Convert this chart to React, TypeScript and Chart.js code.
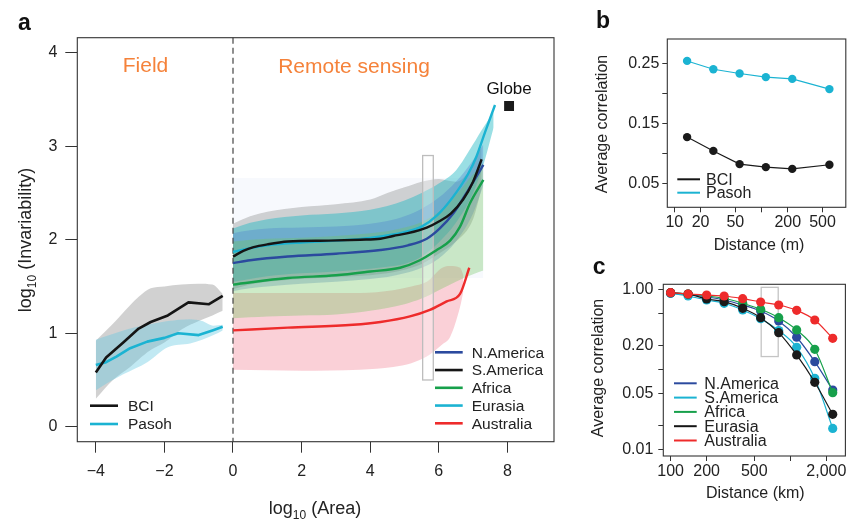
import React, { useEffect, useRef } from "react";
import { Chart, registerables } from "chart.js";

Chart.register(...registerables);

const FONT = '"Liberation Sans", Arial, Helvetica, sans-serif';
const INK = "#222222";
const ORANGE = "#F5823A";

// ---------- Panel a : field plots ----------
const bciX = [-4.0, -3.7, -3.2, -2.75, -2.4, -1.9, -1.3, -0.7, -0.3];
const bciY = [0.58, 0.74, 0.9, 1.05, 1.12, 1.19, 1.33, 1.31, 1.4];
const pasohX = [-4.0, -3.7, -3.4, -3.0, -2.5, -2.0, -1.6, -1.0, -0.6, -0.3];
const pasohY = [0.66, 0.69, 0.75, 0.84, 0.91, 0.95, 1.0, 0.98, 1.03, 1.07];

const bciBandX = [-4.0, -3.5, -3.0, -2.75, -2.4, -2.0, -1.5, -1.0, -0.6, -0.3];
const bciBandHi = [0.92, 1.1, 1.3, 1.39, 1.48, 1.5, 1.52, 1.53, 1.52, 1.42];
const bciBandLo = [0.3, 0.5, 0.64, 0.72, 0.82, 0.9, 1.04, 1.13, 1.19, 1.24];
const pasohBandX = [-4.0, -3.6, -3.2, -2.5, -1.9, -1.25, -0.9, -0.57, -0.3];
const pasohBandHi = [0.93, 0.98, 1.03, 1.09, 1.13, 1.15, 1.13, 1.08, 1.09];
const pasohBandLo = [0.39, 0.48, 0.56, 0.69, 0.85, 0.89, 0.93, 0.98, 1.03];

// ---------- Panel a : remote sensing ----------
const samX = [0, 0.3, 0.6, 1, 1.6, 2.8, 3.7, 4.3, 4.67, 5.1, 5.65, 6.03, 6.35, 6.71, 7.0, 7.25];
const samY = [1.82, 1.88, 1.92, 1.95, 1.98, 1.99, 2.0, 2.01, 2.04, 2.07, 2.13, 2.2, 2.28, 2.43, 2.62, 2.86];
const namX = [0, 0.5, 1.6, 3, 4.3, 5.1, 5.65, 6.03, 6.42, 6.86, 7.3];
const namY = [1.75, 1.78, 1.82, 1.85, 1.89, 1.94, 2.01, 2.12, 2.28, 2.53, 2.8];
const afrX = [0, 1.6, 3, 4.0, 4.87, 5.45, 5.94, 6.33, 6.62, 6.91, 7.3];
const afrY = [1.52, 1.59, 1.62, 1.66, 1.7, 1.78, 1.89, 1.99, 2.14, 2.39, 2.64];
const eurX = [0, 0.5, 1, 2, 3, 4, 5, 5.5, 5.95, 6.4, 6.85, 7.1, 7.35, 7.64];
const eurY = [1.87, 1.91, 1.94, 1.97, 1.99, 2.02, 2.08, 2.14, 2.26, 2.45, 2.7, 2.89, 3.15, 3.44];
const ausX = [0, 1.6, 3.5, 4.3, 5.16, 5.74, 6.23, 6.62, 6.89];
const ausY = [1.03, 1.06, 1.09, 1.12, 1.18, 1.25, 1.34, 1.42, 1.7];

const paleBandX = [0, 7.3];
const paleBandHi = [2.66, 2.66];
const paleBandLo = [1.59, 1.59];
const samBandX = [0, 0.5, 1, 2, 3, 4, 4.5, 5, 5.5, 6, 6.5, 7, 7.25];
const samBandHi = [2.17, 2.25, 2.3, 2.35, 2.38, 2.43, 2.5, 2.56, 2.62, 2.65, 2.62, 2.8, 3.0];
const samBandLo = [1.47, 1.52, 1.55, 1.58, 1.6, 1.62, 1.64, 1.68, 1.74, 1.85, 1.98, 2.22, 2.55];
const namBandX = [0, 0.5, 1, 2, 3, 4, 4.5, 5, 5.5, 6, 6.5, 7, 7.3];
const namBandHi = [2.07, 2.1, 2.12, 2.13, 2.14, 2.17, 2.2, 2.25, 2.33, 2.45, 2.62, 2.85, 3.02];
const namBandLo = [1.45, 1.48, 1.5, 1.53, 1.55, 1.58, 1.6, 1.64, 1.7, 1.8, 1.98, 2.28, 2.58];
const eurBandX = [0, 0.5, 1, 2, 3, 4, 4.5, 5, 5.5, 6, 6.5, 7, 7.3, 7.6];
const eurBandHi = [2.12, 2.18, 2.22, 2.26, 2.28, 2.32, 2.36, 2.42, 2.5, 2.6, 2.74, 3.02, 3.2, 3.36];
const eurBandLo = [1.55, 1.58, 1.61, 1.64, 1.66, 1.69, 1.71, 1.74, 1.82, 1.97, 2.18, 2.5, 2.8, 3.2];
const afrBandX = [0, 0.5, 1, 2, 3, 4, 4.5, 5, 5.5, 6, 6.5, 7, 7.3];
const afrBandHi = [1.98, 2.0, 2.01, 2.02, 2.04, 2.07, 2.09, 2.13, 2.19, 2.3, 2.48, 2.7, 2.82];
const afrBandLo = [1.16, 1.17, 1.18, 1.19, 1.2, 1.24, 1.27, 1.31, 1.37, 1.46, 1.55, 1.63, 1.67];
const ausBandX = [0, 2, 3.7, 4.67, 5.2, 5.65, 6.1, 6.33, 6.62, 6.72];
const ausBandHi = [1.43, 1.43, 1.43, 1.46, 1.5, 1.55, 1.7, 1.72, 1.7, 1.62];
const ausBandLo = [0.61, 0.6, 0.61, 0.64, 0.68, 0.75, 0.88, 0.96, 1.28, 1.45];

const globeX = [8.05];
const globeY = [3.43];
const aRectX = [5.53, 5.84];
const aRectY = [0.5, 2.9];

const aXTicks = [-4, -2, 0, 2, 4, 6, 8];
const aYTicks = [0, 1, 2, 3, 4];
const aFieldLabels = ["BCI", "Pasoh"];
const aRemoteLabels = ["N.America", "S.America", "Africa", "Eurasia", "Australia"];

// ---------- Panel b ----------
const distM = [14, 28, 56, 112, 225, 600];
const pasohCorr = [0.254, 0.24, 0.233, 0.227, 0.224, 0.207];
const bciCorr = [0.127, 0.104, 0.082, 0.077, 0.074, 0.081];
const bXTicks = [10, 20, 50, 100, 200, 500];
const bXLabels = ["10", "20", "50", "", "200", "500"];
const bYTicks = [0.05, 0.1, 0.15, 0.2, 0.25];
const bYLabels = ["0.05", "", "0.15", "", "0.25"];

// ---------- Panel c ----------
const distKm = [100, 140, 200, 280, 400, 565, 800, 1130, 1600, 2260];
const nAmCorr = [0.909, 0.873, 0.817, 0.749, 0.648, 0.545, 0.408, 0.255, 0.126, 0.0555];
const sAmCorr = [0.909, 0.841, 0.749, 0.681, 0.561, 0.436, 0.31, 0.191, 0.0778, 0.0183];
const afrCorr = [0.925, 0.891, 0.841, 0.787, 0.681, 0.573, 0.449, 0.315, 0.18, 0.0514];
const eurCorr = [0.925, 0.891, 0.771, 0.713, 0.589, 0.449, 0.291, 0.153, 0.0694, 0.0275];
const ausCorr = [0.925, 0.891, 0.865, 0.841, 0.778, 0.707, 0.648, 0.556, 0.42, 0.247];
const cXTicks = [100, 200, 500, 1000, 2000];
const cXLabels = ["100", "200", "500", "", "2,000"];
const cYTicks = [0.01, 0.02, 0.05, 0.1, 0.2, 0.5, 1];
const cYLabels = ["0.01", "", "0.05", "", "0.20", "", "1.00"];
const cRectX = [571, 792];
const cRectY = [0.146, 1.08];

// ---------- colours ----------
const C = {
  black: "#151515",
  blue: "#2B4A9E",
  green: "#17A04B",
  cyan: "#1BB3D2",
  red: "#EE2B2B",
};

type XY = { x: number; y: number };
const xy = (xs: number[], ys: number[]): XY[] => xs.map((x, i) => ({ x, y: ys[i] }));

function bandSets(xs: number[], lo: number[], hi: number[], color: string, order: number) {
  return [
    { data: xy(xs, lo), borderWidth: 0, pointRadius: 0, fill: false, order, cubicInterpolationMode: "monotone" },
    { data: xy(xs, hi), borderWidth: 0, pointRadius: 0, fill: "-1", backgroundColor: color, order, cubicInterpolationMode: "monotone" },
  ];
}

function lineSet(xs: number[], ys: number[], color: string, width: number, order: number, smooth: boolean) {
  return {
    data: xy(xs, ys),
    borderColor: color,
    borderWidth: width,
    pointRadius: 0,
    fill: false,
    order,
    tension: 0,
    cubicInterpolationMode: smooth ? "monotone" : "default",
    borderJoinStyle: "round",
  };
}

function drawLegend(ctx: CanvasRenderingContext2D, labels: string[], colors: string[], x0: number, x1: number, tx: number, y0: number, dy: number, lw: number, size: number) {
  ctx.save();
  ctx.font = `${size}px ${FONT}`;
  ctx.textBaseline = "middle";
  ctx.textAlign = "left";
  labels.forEach((lab, i) => {
    const y = y0 + dy * i;
    ctx.strokeStyle = colors[i];
    ctx.lineWidth = lw;
    ctx.beginPath();
    ctx.moveTo(x0, y);
    ctx.lineTo(x1, y);
    ctx.stroke();
    ctx.fillStyle = INK;
    ctx.fillText(lab, tx, y + 1);
  });
  ctx.restore();
}

function drawText(ctx: CanvasRenderingContext2D, text: string, x: number, y: number, size: number, color: string, opts: { rotate?: boolean; bold?: boolean; align?: CanvasTextAlign; baseline?: CanvasTextBaseline } = {}) {
  ctx.save();
  ctx.translate(x, y);
  if (opts.rotate) ctx.rotate(-Math.PI / 2);
  ctx.font = `${opts.bold ? "bold " : ""}${size}px ${FONT}`;
  ctx.fillStyle = color;
  ctx.textAlign = opts.align || "center";
  ctx.textBaseline = opts.baseline || "middle";
  ctx.fillText(text, 0, 0);
  ctx.restore();
}

function drawSubTitle(ctx: CanvasRenderingContext2D, cx: number, cy: number, rotate: boolean, main: string, sub: string, rest: string, size: number) {
  ctx.save();
  ctx.translate(cx, cy);
  if (rotate) ctx.rotate(-Math.PI / 2);
  const f1 = `${size}px ${FONT}`;
  const f2 = `${Math.round(size * 0.68)}px ${FONT}`;
  ctx.font = f1;
  const w1 = ctx.measureText(main).width;
  const w3 = ctx.measureText(rest).width;
  ctx.font = f2;
  const w2 = ctx.measureText(sub).width;
  let x = -(w1 + w2 + w3) / 2;
  const base = size * 0.36;
  ctx.fillStyle = INK;
  ctx.textAlign = "left";
  ctx.textBaseline = "alphabetic";
  ctx.font = f1;
  ctx.fillText(main, x, base);
  x += w1;
  ctx.font = f2;
  ctx.fillText(sub, x, base + size * 0.26);
  x += w2;
  ctx.font = f1;
  ctx.fillText(rest, x, base);
  ctx.restore();
}

function drawBox(chart: any) {
  const { ctx, chartArea: ca } = chart;
  ctx.save();
  ctx.strokeStyle = "#333";
  ctx.lineWidth = 1.1;
  ctx.strokeRect(ca.left, ca.top, ca.right - ca.left, ca.bottom - ca.top);
  ctx.restore();
}

const fmtSigned = (v: number) => (v < 0 ? "\u2212" + Math.abs(v) : String(v));

const gridTicks = (len: number) => ({ drawOnChartArea: false, drawTicks: true, tickLength: len, color: "#333", lineWidth: 1 });

// ---------- Panel a config ----------
function configA(): any {
  const datasets: any[] = [
    ...bandSets(paleBandX, paleBandLo, paleBandHi, "rgba(228,236,247,0.3)", 210),
    ...bandSets(ausBandX, ausBandLo, ausBandHi, "rgba(240,120,140,0.35)", 209),
    ...bandSets(samBandX, samBandLo, samBandHi, "rgba(140,140,140,0.38)", 208),
    ...bandSets(eurBandX, eurBandLo, eurBandHi, "rgba(30,185,195,0.45)", 207),
    ...bandSets(namBandX, namBandLo, namBandHi, "rgba(75,120,205,0.32)", 206),
    ...bandSets(afrBandX, afrBandLo, afrBandHi, "rgba(110,195,95,0.34)", 205),
    ...bandSets(bciBandX, bciBandLo, bciBandHi, "rgba(140,140,140,0.4)", 204),
    ...bandSets(pasohBandX, pasohBandLo, pasohBandHi, "rgba(100,200,225,0.4)", 203),
    lineSet(eurX, eurY, C.cyan, 2.4, 9, true),
    lineSet(namX, namY, C.blue, 2.4, 8, true),
    lineSet(afrX, afrY, C.green, 2.4, 7, true),
    lineSet(samX, samY, C.black, 2.4, 6, true),
    lineSet(ausX, ausY, C.red, 2.4, 5, true),
    lineSet(pasohX, pasohY, C.cyan, 2.6, 4, false),
    lineSet(bciX, bciY, C.black, 2.6, 3, false),
    {
      data: xy(globeX, globeY),
      showLine: false,
      pointStyle: "rect",
      pointRadius: 7,
      pointBorderWidth: 0,
      pointBackgroundColor: "#1a1a1a",
      borderColor: "#1a1a1a",
      order: 1,
    },
  ];

  const plugin = {
    id: "panelA",
    beforeDatasetsDraw(chart: any) {
      const { ctx, chartArea: ca, scales } = chart;
      const x = scales.x, y = scales.y;
      ctx.save();
      const rx0 = x.getPixelForValue(aRectX[0]);
      const rx1 = x.getPixelForValue(aRectX[1]);
      const ry0 = y.getPixelForValue(aRectY[1]);
      const ry1 = y.getPixelForValue(aRectY[0]);
      ctx.fillStyle = "rgba(255,255,255,0.3)";
      ctx.fillRect(rx0, ry0, rx1 - rx0, ry1 - ry0);
      ctx.strokeStyle = "#bdbdbd";
      ctx.lineWidth = 1.3;
      ctx.strokeRect(rx0, ry0, rx1 - rx0, ry1 - ry0);
      const zx = x.getPixelForValue(0);
      ctx.setLineDash([6, 4]);
      ctx.strokeStyle = "#444";
      ctx.lineWidth = 1.2;
      ctx.beginPath();
      ctx.moveTo(zx, ca.top);
      ctx.lineTo(zx, ca.bottom);
      ctx.stroke();
      ctx.restore();
    },
    afterDraw(chart: any) {
      const { ctx, scales } = chart;
      drawBox(chart);
      drawText(ctx, "Field", 145.5, 66, 21, ORANGE);
      drawText(ctx, "Remote sensing", 354, 67, 21, ORANGE);
      const gx = scales.x.getPixelForValue(globeX[0]);
      const gy = scales.y.getPixelForValue(globeY[0]);
      drawText(ctx, "Globe", gx, gy - 17, 17, "#111");
      drawLegend(ctx, aFieldLabels, [C.black, C.cyan], 90, 118, 128, 405.7, 18.3, 2.6, 15.5);
      drawLegend(ctx, aRemoteLabels, [C.blue, C.black, C.green, C.cyan, C.red], 435, 462.7, 471.7, 352.3, 17.75, 2.6, 15.5);
      drawSubTitle(ctx, 25, 240, true, "log", "10", " (Invariability)", 18);
      drawSubTitle(ctx, 315, 508, false, "log", "10", " (Area)", 18);
      drawText(ctx, "a", 18, 29.5, 23, "#111", { bold: true, align: "left", baseline: "alphabetic" });
    },
  };

  return {
    type: "line",
    data: { datasets },
    plugins: [plugin],
    options: {
      responsive: false,
      animation: false,
      events: [],
      layout: { padding: { left: 0, top: 37.7, right: 11, bottom: 0 } },
      plugins: { legend: { display: false }, tooltip: { enabled: false }, filler: { drawTime: "beforeDatasetsDraw" } },
      elements: { point: { radius: 0 } },
      scales: {
        x: {
          type: "linear",
          min: -4.54,
          max: 9.36,
          afterBuildTicks: (s: any) => { s.ticks = aXTicks.map((v) => ({ value: v })); },
          afterFit: (s: any) => { s.height = 78.3; },
          grid: gridTicks(11),
          border: { display: false },
          ticks: { autoSkip: false, maxRotation: 0, padding: 9, color: INK, font: { size: 16, family: FONT }, callback: (v: number) => fmtSigned(v) },
        },
        y: {
          type: "linear",
          min: -0.16,
          max: 4.16,
          afterBuildTicks: (s: any) => { s.ticks = aYTicks.map((v) => ({ value: v })); },
          afterFit: (s: any) => { s.width = 77.3; },
          grid: gridTicks(12),
          border: { display: false },
          ticks: { autoSkip: false, padding: 8, color: INK, font: { size: 16, family: FONT }, callback: (v: number) => String(v) },
        },
      },
    },
  };
}

// ---------- Panel b config ----------
function configB(): any {
  const pt = (xs: number[], ys: number[], color: string, order: number) => ({
    data: xy(xs, ys),
    borderColor: color,
    backgroundColor: color,
    pointBackgroundColor: color,
    borderWidth: 1.1,
    pointRadius: 4.2,
    pointBorderWidth: 0,
    fill: false,
    tension: 0,
    order,
  });
  const plugin = {
    id: "panelB",
    afterDraw(chart: any) {
      const { ctx } = chart;
      drawBox(chart);
      drawLegend(ctx, ["BCI", "Pasoh"], [C.black, C.cyan], 107.3, 130, 136, 179.3, 13.4, 2, 16);
      drawText(ctx, "Average correlation", 33, 124, 16, INK, { rotate: true });
      drawText(ctx, "Distance (m)", 189, 246, 16, INK);
      drawText(ctx, "b", 26, 28.3, 23, "#111", { bold: true, align: "left", baseline: "alphabetic" });
    },
  };
  return {
    type: "line",
    data: { datasets: [pt(distM, pasohCorr, C.cyan, 2), pt(distM, bciCorr, "#1a1a1a", 1)] },
    plugins: [plugin],
    options: {
      responsive: false,
      animation: false,
      events: [],
      layout: { padding: { left: 0, top: 39, right: 2.7, bottom: 0 } },
      plugins: { legend: { display: false }, tooltip: { enabled: false } },
      scales: {
        x: {
          type: "logarithmic",
          min: 8.3,
          max: 925,
          afterBuildTicks: (s: any) => { s.ticks = bXTicks.map((v) => ({ value: v })); },
          afterFit: (s: any) => { s.height = 52.7; },
          grid: gridTicks(5),
          border: { display: false },
          ticks: { autoSkip: false, maxRotation: 0, padding: 1, color: INK, font: { size: 16, family: FONT }, callback: (_v: number, i: number) => bXLabels[i] },
        },
        y: {
          type: "linear",
          min: 0.01,
          max: 0.2905,
          afterBuildTicks: (s: any) => { s.ticks = bYTicks.map((v) => ({ value: v })); },
          afterFit: (s: any) => { s.width = 97.3; },
          grid: gridTicks(5),
          border: { display: false },
          ticks: { autoSkip: false, padding: 3, color: INK, font: { size: 16, family: FONT }, callback: (_v: number, i: number) => bYLabels[i] },
        },
      },
    },
  };
}

// ---------- Panel c config ----------
function configC(): any {
  const pt = (ys: number[], color: string, order: number) => ({
    data: xy(distKm, ys),
    borderColor: color,
    backgroundColor: color,
    pointBackgroundColor: color,
    borderWidth: 1.2,
    pointRadius: 4.6,
    pointBorderWidth: 0,
    fill: false,
    cubicInterpolationMode: "monotone",
    order,
  });
  const plugin = {
    id: "panelC",
    beforeDatasetsDraw(chart: any) {
      const { ctx, scales } = chart;
      const x0 = scales.x.getPixelForValue(cRectX[0]);
      const x1 = scales.x.getPixelForValue(cRectX[1]);
      const y0 = scales.y.getPixelForValue(cRectY[1]);
      const y1 = scales.y.getPixelForValue(cRectY[0]);
      ctx.save();
      ctx.strokeStyle = "#c4c4c4";
      ctx.lineWidth = 1.3;
      ctx.strokeRect(x0, y0, x1 - x0, y1 - y0);
      ctx.restore();
    },
    afterDraw(chart: any) {
      const { ctx } = chart;
      drawBox(chart);
      drawLegend(ctx, ["N.America", "S.America", "Africa", "Eurasia", "Australia"], [C.blue, C.cyan, C.green, C.black, C.red], 104, 126.7, 134.3, 123.3, 14.3, 2, 16);
      drawText(ctx, "Average correlation", 29, 108, 16, INK, { rotate: true });
      drawText(ctx, "Distance (km)", 185.3, 233.3, 16, INK);
      drawText(ctx, "c", 22.7, 14, 23, "#111", { bold: true, align: "left", baseline: "alphabetic" });
    },
  };
  return {
    type: "line",
    data: {
      datasets: [
        pt(nAmCorr, C.blue, 5),
        pt(sAmCorr, C.cyan, 4),
        pt(afrCorr, C.green, 3),
        pt(eurCorr, "#1a1a1a", 2),
        pt(ausCorr, C.red, 1),
      ],
    },
    plugins: [plugin],
    options: {
      responsive: false,
      animation: false,
      events: [],
      layout: { padding: { left: 0, top: 24.3, right: 1.7, bottom: 0 } },
      plugins: { legend: { display: false }, tooltip: { enabled: false } },
      scales: {
        x: {
          type: "logarithmic",
          min: 86.9,
          max: 2884,
          afterBuildTicks: (s: any) => { s.ticks = cXTicks.map((v) => ({ value: v })); },
          afterFit: (s: any) => { s.height = 64; },
          grid: gridTicks(5),
          border: { display: false },
          ticks: { autoSkip: false, maxRotation: 0, padding: 1, color: INK, font: { size: 16, family: FONT }, callback: (_v: number, i: number) => cXLabels[i] },
        },
        y: {
          type: "logarithmic",
          min: 0.00824,
          max: 1.179,
          afterBuildTicks: (s: any) => { s.ticks = cYTicks.map((v) => ({ value: v })); },
          afterFit: (s: any) => { s.width = 93.3; },
          grid: gridTicks(5),
          border: { display: false },
          ticks: { autoSkip: false, padding: 5, color: INK, font: { size: 16, family: FONT }, callback: (_v: number, i: number) => cYLabels[i] },
        },
      },
    },
  };
}

export default function App() {
  const refA = useRef<HTMLCanvasElement>(null);
  const refB = useRef<HTMLCanvasElement>(null);
  const refC = useRef<HTMLCanvasElement>(null);

  useEffect(() => {
    Chart.defaults.font.family = FONT;
    Chart.defaults.color = INK;
    const charts = [
      new Chart(refA.current as HTMLCanvasElement, configA()),
      new Chart(refB.current as HTMLCanvasElement, configB()),
      new Chart(refC.current as HTMLCanvasElement, configC()),
    ];
    return () => charts.forEach((c) => c.destroy());
  }, []);

  return (
    <div style={{ position: "absolute", left: 0, top: 0, width: 850, height: 520, background: "#fff", overflow: "hidden" }}>
      <canvas ref={refA} width={565} height={520} style={{ position: "absolute", left: 0, top: 0 }} />
      <canvas ref={refB} width={280} height={260} style={{ position: "absolute", left: 570, top: 0 }} />
      <canvas ref={refC} width={280} height={260} style={{ position: "absolute", left: 570, top: 260 }} />
    </div>
  );
}
